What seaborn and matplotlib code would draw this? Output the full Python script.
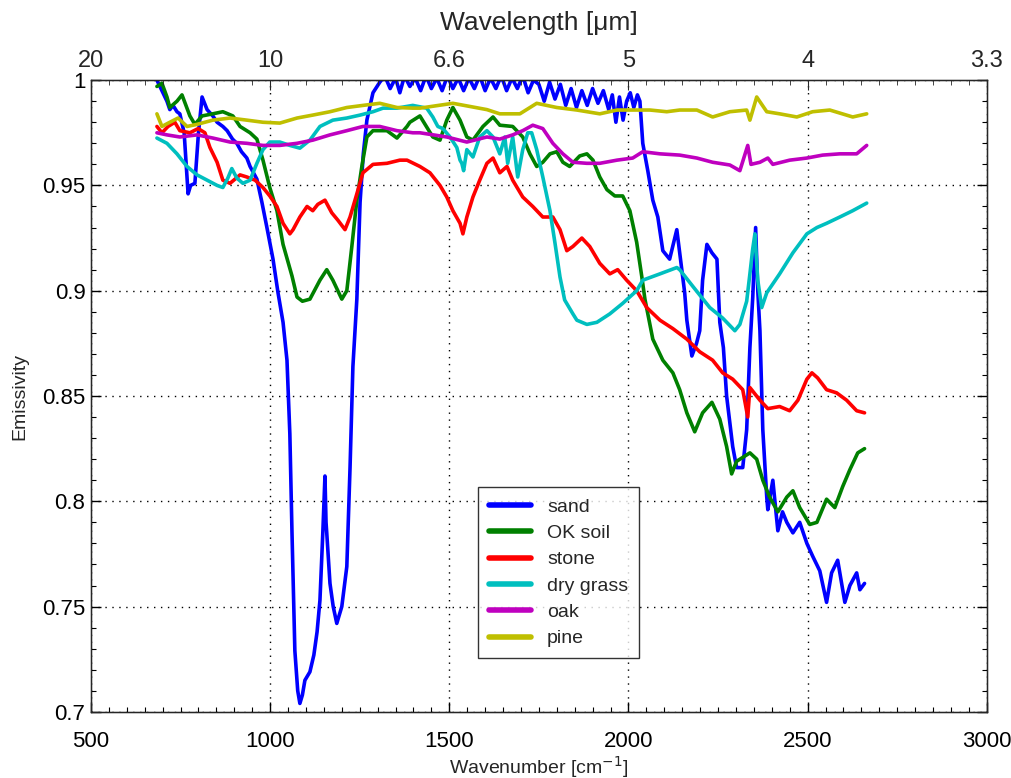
import numpy as np
import pandas as pd
import matplotlib
matplotlib.use("Agg")
import matplotlib.pyplot as plt
from matplotlib.ticker import MultipleLocator
import seaborn as sns

# emissivity spectra (wavenumber in cm^-1)
sand_wn = [684, 698, 712, 720, 729, 740, 748, 760, 771, 778, 790, 800, 810, 824, 840, 852, 868, 880, 895, 907,
           920, 935, 944, 963, 977, 991, 1008, 1022, 1036, 1047, 1055, 1061, 1069, 1077, 1083, 1090, 1097, 1111,
           1122, 1131, 1139, 1147, 1153, 1156, 1158, 1167, 1176, 1186, 1200, 1214, 1223, 1231, 1242, 1251, 1260,
           1270, 1287, 1306, 1320, 1335, 1350, 1362, 1375, 1390, 1405, 1420, 1435, 1450, 1465, 1480, 1495, 1510,
           1525, 1540, 1555, 1570, 1585, 1600, 1615, 1630, 1645, 1660, 1675, 1690, 1705, 1720, 1735, 1750, 1765,
           1780, 1795, 1810, 1825, 1840, 1855, 1870, 1885, 1900, 1915, 1930, 1945, 1955, 1965, 1975, 1985, 1995,
           2005, 2015, 2025, 2032, 2040, 2054, 2068, 2082, 2096, 2115, 2135, 2143, 2157, 2163, 2177, 2190, 2199,
           2207, 2219, 2233, 2247, 2255, 2265, 2274, 2291, 2302, 2319, 2330, 2339, 2347, 2355, 2361, 2367, 2375,
           2386, 2389, 2403, 2417, 2430, 2442, 2459, 2478, 2498, 2514, 2534, 2553, 2567, 2584, 2604, 2618, 2637,
           2646, 2659]
sand_em = [1.000, 0.995, 0.990, 0.986, 0.988, 0.985, 0.984, 0.975, 0.946, 0.950, 0.951, 0.975, 0.992, 0.986,
           0.983, 0.980, 0.978, 0.976, 0.972, 0.970, 0.966, 0.963, 0.959, 0.953, 0.942, 0.930, 0.915, 0.899,
           0.885, 0.867, 0.832, 0.785, 0.729, 0.710, 0.704, 0.708, 0.715, 0.719, 0.727, 0.738, 0.753, 0.785,
           0.812, 0.790, 0.785, 0.761, 0.750, 0.742, 0.750, 0.769, 0.816, 0.864, 0.896, 0.942, 0.965, 0.981,
           0.994, 0.999, 1.002, 0.996, 1.001, 0.994, 1.002, 0.997, 1.001, 0.995, 1.002, 0.996, 1.001, 0.995,
           1.002, 0.996, 1.001, 0.995, 1.001, 0.996, 1.002, 0.995, 1.001, 0.996, 1.002, 0.995, 1.001, 0.996,
           1.002, 0.994, 1.000, 0.998, 0.990, 0.999, 0.991, 0.998, 0.988, 0.996, 0.987, 0.995, 0.988, 0.996,
           0.989, 0.995, 0.986, 0.993, 0.980, 0.992, 0.981, 0.990, 0.994, 0.987, 0.993, 0.990, 0.970, 0.957,
           0.943, 0.935, 0.919, 0.915, 0.929, 0.918, 0.899, 0.886, 0.869, 0.875, 0.881, 0.905, 0.922, 0.918,
           0.915, 0.885, 0.873, 0.850, 0.826, 0.816, 0.816, 0.834, 0.873, 0.897, 0.930, 0.900, 0.881, 0.834,
           0.802, 0.796, 0.810, 0.786, 0.795, 0.790, 0.785, 0.790, 0.780, 0.774, 0.767, 0.752, 0.766, 0.772,
           0.752, 0.760, 0.766, 0.758, 0.761]

soil_wn = [684, 698, 712, 720, 740, 754, 765, 776, 790, 810, 840, 868, 896, 916, 944, 963, 980, 999, 1019, 1036,
           1061, 1075, 1090, 1111, 1139, 1158, 1175, 1200, 1214, 1228, 1242, 1256, 1270, 1287, 1326, 1354, 1382,
           1390, 1418, 1454, 1474, 1493, 1510, 1530, 1549, 1566, 1594, 1622, 1641, 1677, 1705, 1725, 1744, 1761,
           1781, 1800, 1817, 1836, 1864, 1884, 1901, 1920, 1940, 1962, 1984, 2004, 2023, 2037, 2046, 2068, 2096,
           2124, 2143, 2163, 2185, 2207, 2233, 2255, 2274, 2288, 2302, 2339, 2358, 2375, 2394, 2417, 2442, 2459,
           2478, 2506, 2526, 2553, 2576, 2598, 2618, 2640, 2659]
soil_em = [0.997, 0.9985, 0.992, 0.987, 0.990, 0.993, 0.988, 0.983, 0.979, 0.983, 0.984, 0.985, 0.983, 0.978,
           0.975, 0.972, 0.962, 0.949, 0.938, 0.922, 0.907, 0.897, 0.895, 0.896, 0.905, 0.910, 0.905, 0.896,
           0.900, 0.921, 0.943, 0.959, 0.973, 0.976, 0.976, 0.9725, 0.978, 0.980, 0.983, 0.973, 0.9715, 0.981,
           0.987, 0.981, 0.973, 0.9715, 0.978, 0.9825, 0.9786, 0.978, 0.973, 0.965, 0.959, 0.961, 0.965, 0.966,
           0.961, 0.959, 0.964, 0.965, 0.962, 0.954, 0.948, 0.945, 0.945, 0.938, 0.923, 0.907, 0.896, 0.877,
           0.867, 0.861, 0.853, 0.842, 0.833, 0.842, 0.847, 0.839, 0.826, 0.813, 0.819, 0.823, 0.820, 0.810,
           0.802, 0.795, 0.802, 0.805, 0.797, 0.789, 0.790, 0.801, 0.797, 0.807, 0.815, 0.823, 0.825]

stone_wn = [684, 698, 715, 734, 748, 776, 799, 818, 832, 852, 868, 888, 916, 935, 958, 980, 999, 1019, 1036, 1055,
            1064, 1083, 1103, 1119, 1133, 1153, 1172, 1189, 1209, 1223, 1242, 1259, 1287, 1326, 1362, 1382, 1418,
            1446, 1474, 1493, 1510, 1530, 1538, 1549, 1566, 1585, 1605, 1622, 1641, 1661, 1677, 1705, 1733, 1761,
            1789, 1809, 1828, 1845, 1870, 1892, 1920, 1948, 1970, 1995, 2023, 2051, 2088, 2124, 2163, 2199, 2235,
            2263, 2291, 2319, 2333, 2339, 2367, 2389, 2422, 2450, 2473, 2498, 2512, 2528, 2553, 2581, 2609, 2637,
            2659]
stone_em = [0.978, 0.975, 0.978, 0.980, 0.976, 0.975, 0.977, 0.975, 0.968, 0.961, 0.9525, 0.951, 0.955, 0.954,
            0.9525, 0.949, 0.945, 0.940, 0.932, 0.927, 0.929, 0.935, 0.940, 0.938, 0.941, 0.943, 0.937, 0.9335,
            0.929, 0.935, 0.946, 0.956, 0.960, 0.9605, 0.962, 0.962, 0.959, 0.956, 0.950, 0.9445, 0.938, 0.932,
            0.927, 0.935, 0.9445, 0.9525, 0.9605, 0.963, 0.956, 0.959, 0.9525, 0.9445, 0.940, 0.935, 0.935, 0.929,
            0.919, 0.921, 0.925, 0.921, 0.913, 0.908, 0.910, 0.905, 0.900, 0.892, 0.886, 0.882, 0.877, 0.871,
            0.867, 0.861, 0.858, 0.853, 0.840, 0.854, 0.848, 0.844, 0.845, 0.843, 0.848, 0.858, 0.861, 0.8586,
            0.853, 0.8515, 0.848, 0.843, 0.842]

grass_wn = [684, 712, 740, 768, 796, 824, 852, 868, 882, 893, 907, 924, 944, 963, 980, 999, 1027, 1055, 1083,
            1111, 1139, 1175, 1214, 1251, 1287, 1315, 1354, 1398, 1437, 1454, 1468, 1482, 1502, 1521, 1530, 1535,
            1540, 1549, 1566, 1585, 1605, 1622, 1641, 1655, 1663, 1677, 1691, 1705, 1719, 1730, 1744, 1761, 1781,
            1795, 1809, 1822, 1845, 1856, 1884, 1912, 1948, 1984, 2023, 2040, 2088, 2135, 2143, 2180, 2227, 2263,
            2297, 2311, 2330, 2339, 2347, 2353, 2361, 2372, 2386, 2422, 2459, 2498, 2526, 2553, 2590, 2626, 2665]
grass_em = [0.9725, 0.970, 0.965, 0.959, 0.955, 0.9525, 0.950, 0.949, 0.9535, 0.958, 0.9535, 0.951, 0.9525,
            0.9605, 0.967, 0.9706, 0.9706, 0.969, 0.9677, 0.9715, 0.978, 0.981, 0.982, 0.9834, 0.985, 0.9867,
            0.9867, 0.988, 0.9867, 0.9825, 0.978, 0.977, 0.973, 0.968, 0.962, 0.9605, 0.957, 0.967, 0.9635, 0.973,
            0.976, 0.973, 0.965, 0.973, 0.9605, 0.973, 0.954, 0.967, 0.975, 0.975, 0.967, 0.954, 0.938, 0.9226,
            0.9065, 0.8956, 0.889, 0.886, 0.884, 0.885, 0.889, 0.894, 0.900, 0.905, 0.908, 0.911, 0.910, 0.902,
            0.892, 0.887, 0.881, 0.884, 0.895, 0.908, 0.920, 0.927, 0.905, 0.892, 0.899, 0.908, 0.918, 0.927,
            0.930, 0.932, 0.935, 0.938, 0.9416]

oak_wn = [684, 712, 748, 796, 840, 888, 935, 980, 1027, 1075, 1119, 1167, 1214, 1259, 1306, 1354, 1398, 1418,
          1493, 1549, 1605, 1641, 1677, 1705, 1733, 1761, 1789, 1817, 1845, 1884, 1920, 1968, 2012, 2040, 2088,
          2143, 2191, 2235, 2283, 2311, 2333, 2342, 2367, 2389, 2403, 2450, 2498, 2542, 2590, 2637, 2665]
oak_em = [0.975, 0.974, 0.973, 0.974, 0.9725, 0.9706, 0.970, 0.969, 0.969, 0.970, 0.9715, 0.974, 0.976, 0.978,
          0.978, 0.976, 0.975, 0.975, 0.973, 0.9706, 0.973, 0.972, 0.974, 0.976, 0.9786, 0.977, 0.970, 0.965,
          0.961, 0.9605, 0.9605, 0.962, 0.963, 0.966, 0.965, 0.9644, 0.963, 0.961, 0.9597, 0.957, 0.969, 0.960,
          0.961, 0.963, 0.960, 0.962, 0.963, 0.9644, 0.965, 0.965, 0.969]

pine_wn = [684, 698, 720, 743, 768, 796, 840, 888, 935, 980, 1027, 1075, 1119, 1167, 1214, 1259, 1306, 1354, 1398,
           1418, 1510, 1605, 1641, 1697, 1744, 1800, 1856, 1920, 1968, 2012, 2060, 2107, 2143, 2191, 2235, 2283,
           2330, 2339, 2358, 2386, 2422, 2470, 2514, 2562, 2626, 2665]
pine_em = [0.984, 0.978, 0.980, 0.982, 0.978, 0.979, 0.981, 0.982, 0.981, 0.980, 0.9796, 0.982, 0.9834, 0.985,
           0.987, 0.988, 0.989, 0.987, 0.9867, 0.9867, 0.989, 0.986, 0.984, 0.984, 0.989, 0.987, 0.9858, 0.984,
           0.9858, 0.9858, 0.9858, 0.985, 0.9858, 0.9858, 0.9825, 0.985, 0.9858, 0.981, 0.992, 0.985, 0.984,
           0.9825, 0.985, 0.9858, 0.9825, 0.984]

names = ["sand", "OK soil", "stone", "dry grass", "oak", "pine"]
colors = ["#0000ff", "#008000", "#ff0000", "#00bfbf", "#bf00bf", "#bfbf00"]
top_labels = ["20", "10", "6.6", "5", "4", "3.3"]

series = [(sand_wn, sand_em), (soil_wn, soil_em), (stone_wn, stone_em),
          (grass_wn, grass_em), (oak_wn, oak_em), (pine_wn, pine_em)]
frames = []
for name, (wn, em) in zip(names, series):
    frames.append(pd.DataFrame({"wn": wn, "em": em, "surface": name}))
df = pd.concat(frames, ignore_index=True)

sns.set_style("ticks")
plt.rcParams["font.family"] = ["Liberation Sans", "DejaVu Sans"]

fig = plt.figure(figsize=(10.11, 7.78), dpi=100)
ax = fig.add_axes([0.090, 0.085, 0.886, 0.812])

sns.lineplot(data=df, x="wn", y="em", hue="surface", hue_order=names,
             palette=dict(zip(names, colors)), sort=False, estimator=None,
             linewidth=2.6, ax=ax)

ax.set_xlim(500, 3000)
ax.set_ylim(0.7, 1.0)
ax.set_xticks([500, 1000, 1500, 2000, 2500, 3000])
ax.set_yticks([0.7, 0.75, 0.8, 0.85, 0.9, 0.95, 1.0])
ax.set_yticklabels(["0.7", "0.75", "0.8", "0.85", "0.9", "0.95", "1"])
ax.xaxis.set_minor_locator(MultipleLocator(50))
ax.yaxis.set_minor_locator(MultipleLocator(0.01))
ax.tick_params(which="both", direction="in", top=True, right=True, labelsize=16, colors="black")
ax.tick_params(which="major", length=7, width=1)
ax.tick_params(which="minor", length=3.5, width=0.8)
ax.tick_params(axis="x", which="major", pad=14)
ax.tick_params(axis="y", which="major", pad=4)
ax.grid(True, which="major", linestyle=(0, (1, 4)), color="black", linewidth=1)
for sp in ax.spines.values():
    sp.set_color("black")
    sp.set_linewidth(1)

ax.set_xlabel("Wavenumber [cm$^{-1}$]", fontsize=14, labelpad=1)
ax.set_ylabel("Emissivity", fontsize=14, labelpad=10)

top = ax.twiny()
top.set_xlim(ax.get_xlim())
top.set_xticks([500, 1000, 1500, 2000, 2500, 3000])
top.set_xticklabels(top_labels)
top.xaxis.set_minor_locator(MultipleLocator(50))
top.tick_params(which="both", direction="in", labelsize=17, pad=6)
top.tick_params(which="major", length=7)
top.tick_params(which="minor", length=3.5)
top.set_xlabel("Wavelength [\u03bcm]", fontsize=19, labelpad=14)

leg = ax.legend(loc="lower left", bbox_to_anchor=(0.432, 0.085), borderaxespad=0, fontsize=14,
                frameon=True, fancybox=False, edgecolor="black", handlelength=2.2,
                borderpad=0.55, labelspacing=0.45)
leg.get_frame().set_linewidth(1)
for line in leg.get_lines():
    line.set_linewidth(4)

fig.savefig("out.png", dpi=100)
